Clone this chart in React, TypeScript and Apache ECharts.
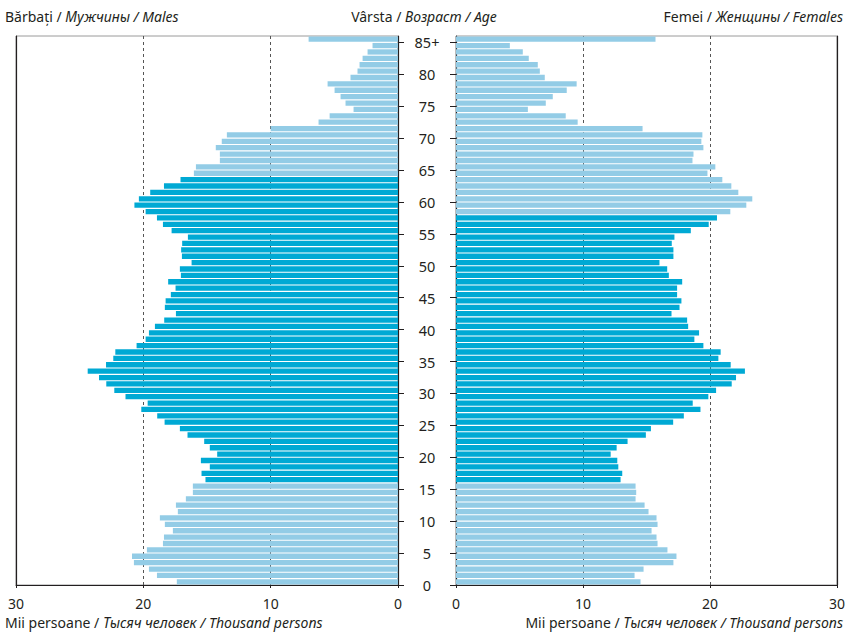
import React, { useEffect, useRef } from "react";
import * as echarts from "echarts";

const AGES: string[] = Array.from({ length: 86 }, (_, i) => (i === 85 ? "85+" : String(i)));
const AGE_TICKS = [0, 5, 10, 15, 20, 25, 30, 35, 40, 45, 50, 55, 60, 65, 70, 75, 80, 85];

// Thousand persons, ages 0..85+
const MALES = [
  17.37, 18.93, 19.56, 20.74, 20.89, 19.72, 18.46, 18.38, 17.68, 18.31,
  18.7, 17.29, 17.44, 16.66, 16.11, 16.11, 15.12, 15.43, 14.78, 15.48,
  14.2, 14.78, 15.22, 16.53, 17.13, 18.33, 18.91, 20.16, 19.66, 21.4,
  22.28, 22.91, 23.48, 24.37, 22.93, 22.36, 22.2, 20.53, 19.82, 19.56,
  19.09, 18.36, 17.44, 18.31, 18.25, 17.84, 17.47, 18.05, 17.05, 17.13,
  16.21, 16.97, 17.03, 16.95, 16.5, 17.78, 18.46, 18.93, 19.82, 20.7,
  20.35, 19.46, 18.38, 17.08, 16.03, 15.87, 13.99, 13.99, 14.31, 13.84,
  13.44, 10.0, 6.24, 5.37, 3.49, 4.12, 4.51, 4.98, 5.53, 3.73,
  3.18, 3.02, 2.78, 2.39, 2.0, 7.02,
];
const FEMALES = [
  14.53, 14.06, 14.77, 17.12, 17.36, 16.65, 15.87, 15.79, 15.4, 15.87,
  15.79, 15.16, 14.85, 14.14, 14.19, 14.14, 12.96, 13.09, 12.78, 12.7,
  12.18, 12.65, 13.51, 14.95, 15.35, 17.1, 17.94, 19.25, 18.64, 19.87,
  20.48, 21.71, 22.05, 22.75, 21.63, 20.66, 20.84, 19.48, 18.77, 19.14,
  18.28, 18.2, 16.97, 17.6, 17.75, 17.41, 17.41, 17.81, 16.76, 16.63,
  16.02, 17.12, 17.12, 16.99, 17.2, 18.49, 19.9, 20.55, 21.6, 22.86,
  23.33, 22.23, 21.68, 20.97, 19.8, 20.42, 18.62, 18.7, 19.48, 19.32,
  19.4, 14.69, 9.58, 8.64, 5.66, 7.07, 7.62, 8.72, 9.5, 6.99,
  6.6, 6.44, 5.73, 5.26, 4.24, 15.71,
];
// working-age ranges (inclusive), drawn in the darker colour
const MALE_WORKING = [16, 63];
const FEMALE_WORKING = [16, 57];

const X_TICKS_INTERVAL = 10;
const X_MAX = 30;

const DARK = "#00a9d4";
const LIGHT = "#93cce6";
const INK = "#231f20";
const FONT = "'Noto Sans', 'Open Sans', sans-serif";

function barData(values: number[], range: number[]) {
  return values.map((v, i) => ({
    value: v,
    itemStyle: { color: i >= range[0] && i <= range[1] ? DARK : LIGHT },
  }));
}

export default function App() {
  const ref = useRef<HTMLDivElement>(null);
  useEffect(() => {
    document.body.style.margin = "0";
    if (!ref.current) return;
    const chart = echarts.init(ref.current, null, { renderer: "svg" });
    const xAxisBase = (gridIndex: number, inverse: boolean) => ({
      gridIndex,
      type: "value",
      min: 0,
      max: X_MAX,
      interval: X_TICKS_INTERVAL,
      inverse,
      axisLine: { show: true, onZero: false, lineStyle: { color: INK, width: 1 } },
      axisTick: { show: true, length: 3, lineStyle: { color: INK } },
      axisLabel: { margin: 11, fontSize: 14, color: INK, fontFamily: FONT },
      splitLine: { show: true, lineStyle: { type: [3, 3], color: "#555", width: 1 } },
    });
    const tickAxis = (gridIndex: number, position: string, labels: boolean) => ({
      gridIndex,
      type: "value",
      min: 0,
      max: 86,
      position,
      axisLine: { show: true, onZero: false, lineStyle: { color: INK, width: 1.2 } },
      axisTick: { show: true, inside: false, length: 6, customValues: AGE_TICKS, lineStyle: { color: INK } },
      axisLabel: {
        show: labels,
        customValues: AGE_TICKS,
        align: "center",
        margin: 29,
        fontSize: 14.5,
        color: INK,
        fontFamily: FONT,
        formatter: (v: number) => (v === 85 ? "85+" : String(v)),
      },
      splitLine: { show: false },
    });
    const borderAxis = (gridIndex: number, position: string) => ({
      gridIndex,
      type: "value",
      min: 0,
      max: 86,
      position,
      axisLine: { show: true, onZero: false, lineStyle: { color: INK, width: 1.2 } },
      axisTick: { show: false },
      axisLabel: { show: false },
      splitLine: { show: false },
    });
    const catAxis = (gridIndex: number) => ({
      gridIndex,
      type: "category",
      data: AGES,
      boundaryGap: true,
      show: false,
      axisLine: { onZero: false },
    });
    const rich = {
      r: { fontSize: 14, fontFamily: FONT, fill: INK },
      i: { fontSize: 14, fontFamily: FONT, fill: INK, fontStyle: "italic" },
    };
    chart.setOption({
      animation: false,
      textStyle: { fontFamily: FONT },
      grid: [
        { left: 16, right: 450, top: 36, bottom: 50, show: true, borderColor: "#9a9a9a", borderWidth: 1 },
        { left: 456, right: 10, top: 36, bottom: 50, show: true, borderColor: "#9a9a9a", borderWidth: 1 },
      ],
      xAxis: [xAxisBase(0, true), xAxisBase(1, false)],
      yAxis: [
        tickAxis(0, "right", true),
        borderAxis(0, "left"),
        catAxis(0),
        tickAxis(1, "left", false),
        borderAxis(1, "right"),
        catAxis(1),
      ],
      series: [
        {
          type: "bar",
          xAxisIndex: 0,
          yAxisIndex: 2,
          barWidth: 5.3,
          data: barData(MALES, MALE_WORKING),
        },
        {
          type: "bar",
          xAxisIndex: 1,
          yAxisIndex: 5,
          barWidth: 5.3,
          data: barData(FEMALES, FEMALE_WORKING),
        },
      ],
      graphic: [
        { type: "text", left: 5, top: 9, style: { text: "{r|Bărbați / }{i|Мужчины / Males}", rich } },
        { type: "text", left: "center", top: 9, style: { text: "{r|Vârsta / }{i|Возраст / Age}", rich } },
        { type: "text", right: 5, top: 9, style: { text: "{r|Femei / }{i|Женщины / Females}", rich } },
        { type: "text", left: 5, top: 615, style: { text: "{r|Mii persoane / }{i|Тысяч человек / Thousand persons}", rich } },
        { type: "text", right: 5, top: 615, style: { text: "{r|Mii persoane / }{i|Тысяч человек / Thousand persons}", rich } },
      ],
    });
    return () => chart.dispose();
  }, []);
  return (
    <div
      ref={ref}
      style={{ position: "absolute", left: 0, top: 0, width: 848, height: 635, background: "#fff" }}
    />
  );
}
